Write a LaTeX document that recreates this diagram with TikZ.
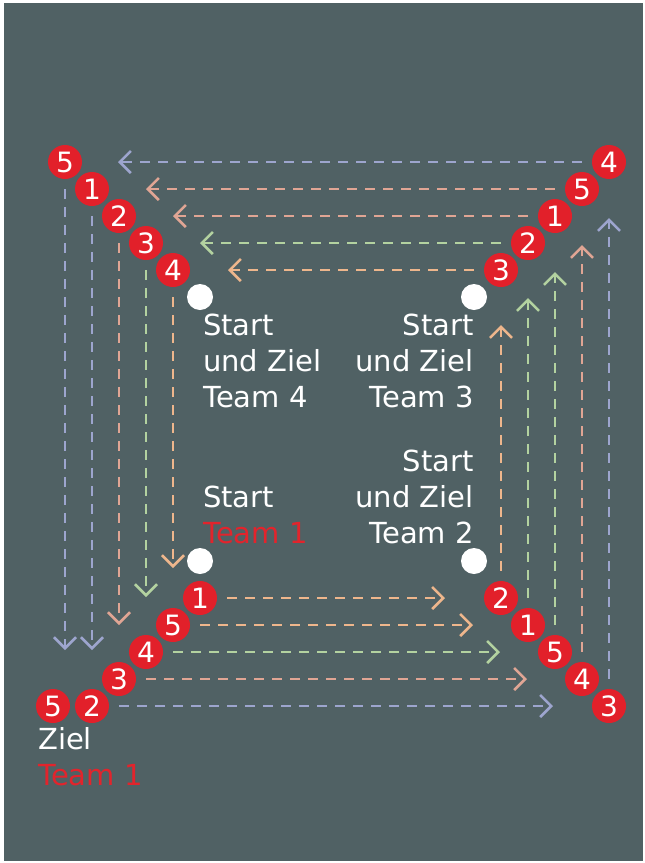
\documentclass[tikz,border=0pt]{standalone}
\usepackage{fontspec}
\setmainfont{DejaVu Sans}
\usepackage{xcolor}
\definecolor{slate}{RGB}{80,97,100}
\definecolor{badgered}{RGB}{226,32,42}
\definecolor{teamred}{RGB}{226,36,44}
\definecolor{lblue}{RGB}{157,165,206}
\definecolor{lsalmon}{RGB}{224,165,148}
\definecolor{lorange}{RGB}{238,182,140}
\definecolor{lgreen}{RGB}{179,210,160}
\usepackage{tikz}
\usetikzlibrary{arrows.meta,positioning}
\tikzset{
  badge/.style={circle,fill=badgered,text=white,
    minimum size=34pt,inner sep=0pt,
    font=\fontsize{28}{28}\selectfont},
  startdot/.style={circle,fill=white,minimum size=26pt,inner sep=0pt},
  lbl/.style={text=white,inner sep=0pt,
    font=\fontsize{29}{36}\selectfont},
  arr/.style={-{Straight Barb[length=11pt,width=22pt]},
    line width=2.6pt,dash pattern=on 10pt off 8pt,shorten <=10pt},
  arr_blue/.style={arr,draw=lblue},
  arr_salmon/.style={arr,draw=lsalmon},
  arr_orange/.style={arr,draw=lorange},
  arr_green/.style={arr,draw=lgreen},
}

\begin{document}
\begin{tikzpicture}[x=1pt,y=-1pt]
  \useasboundingbox (0,0) rectangle (645,863);
  \fill[slate] (4,3) rectangle (643,861);

  % corner badges: top left, top right, bottom right, bottom left
  \node (tl5) [badge] at (65,162)  {5};
  \node (tl1) [badge] at (92,189)  {1};
  \node (tl2) [badge] at (119,216) {2};
  \node (tl3) [badge] at (146,243) {3};
  \node (tl4) [badge] at (173,270) {4};

  \node (tr4) [badge] at (609,162) {4};
  \node (tr5) [badge] at (582,189) {5};
  \node (tr1) [badge] at (555,216) {1};
  \node (tr2) [badge] at (528,243) {2};
  \node (tr3) [badge] at (501,270) {3};

  \node (br2) [badge] at (501,598) {2};
  \node (br1) [badge] at (528,625) {1};
  \node (br5) [badge] at (555,652) {5};
  \node (br4) [badge] at (582,679) {4};
  \node (br3) [badge] at (609,706) {3};

  \node (bl1) [badge] at (200,598) {1};
  \node (bl5) [badge] at (173,625) {5};
  \node (bl4) [badge] at (146,652) {4};
  \node (bl3) [badge] at (119,679) {3};
  \node (bl2) [badge] at (92,706)  {2};
  \node (fin5) [badge] at (53,706) {5};

  % start points of the teams
  \node (dot4) [startdot] at (200,297) {};
  \node (dot3) [startdot] at (474,297) {};
  \node (dot1) [startdot] at (200,561) {};
  \node (dot2) [startdot] at (474,561) {};

  % base of a multi-line label = baseline of its last line
  \node (txt4) [lbl,anchor=base west,align=left] at (203,407)
    {Start\\und Ziel\\Team 4};
  \node (txt3) [lbl,anchor=base east,align=right] at (474,407)
    {Start\\und Ziel\\Team 3};
  \node (txt1) [lbl,anchor=base west,align=left] at (203,543)
    {Start\\\textcolor{teamred}{Team 1}};
  \node (txt2) [lbl,anchor=base east,align=right] at (474,543)
    {Start\\und Ziel\\Team 2};
  \node (ziel) [lbl,anchor=base west,align=left] at (38,785)
    {Ziel\\\textcolor{teamred}{Team 1}};

  % free ends of the arrows
  \coordinate (top_a) at (118,162);
  \coordinate (top_b) at (146,189);
  \coordinate (top_c) at (173,216);
  \coordinate (top_d) at (200,243);
  \coordinate (top_e) at (228,270);

  \coordinate (rgt_a) at (609,218);
  \coordinate (rgt_b) at (582,245);
  \coordinate (rgt_c) at (555,272);
  \coordinate (rgt_d) at (528,298);
  \coordinate (rgt_e) at (501,325);

  \coordinate (bot_a) at (445,598);
  \coordinate (bot_b) at (473,625);
  \coordinate (bot_c) at (500,652);
  \coordinate (bot_d) at (527,679);
  \coordinate (bot_e) at (553,706);

  \coordinate (lft_a) at (65,650);
  \coordinate (lft_b) at (92,650);
  \coordinate (lft_c) at (119,625);
  \coordinate (lft_d) at (146,597);
  \coordinate (lft_e) at (173,568);

  % top: right to left
  \draw[arr_blue]   (tr4) -- (top_a);
  \draw[arr_salmon] (tr5) -- (top_b);
  \draw[arr_salmon] (tr1) -- (top_c);
  \draw[arr_green]  (tr2) -- (top_d);
  \draw[arr_orange] (tr3) -- (top_e);
  % right: upwards
  \draw[arr_blue]   (br3) -- (rgt_a);
  \draw[arr_salmon] (br4) -- (rgt_b);
  \draw[arr_green]  (br5) -- (rgt_c);
  \draw[arr_green]  (br1) -- (rgt_d);
  \draw[arr_orange] (br2) -- (rgt_e);
  % bottom: left to right
  \draw[arr_orange] (bl1) -- (bot_a);
  \draw[arr_orange] (bl5) -- (bot_b);
  \draw[arr_green]  (bl4) -- (bot_c);
  \draw[arr_salmon] (bl3) -- (bot_d);
  \draw[arr_blue]   (bl2) -- (bot_e);
  % left: downwards
  \draw[arr_blue]   (tl5) -- (lft_a);
  \draw[arr_blue]   (tl1) -- (lft_b);
  \draw[arr_salmon] (tl2) -- (lft_c);
  \draw[arr_green]  (tl3) -- (lft_d);
  \draw[arr_orange] (tl4) -- (lft_e);
\end{tikzpicture}
\end{document}
